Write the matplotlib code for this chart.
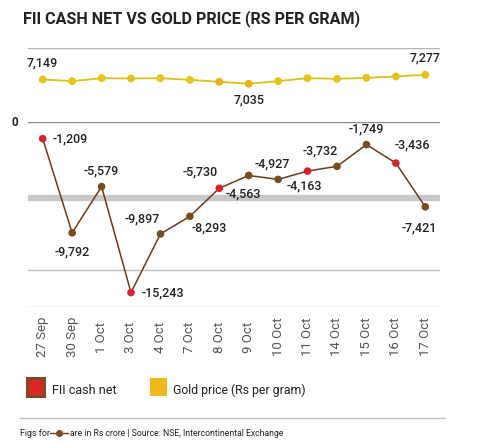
import matplotlib
matplotlib.use("Agg")
import matplotlib.pyplot as plt
from matplotlib.lines import Line2D

plt.rcParams['font.family'] = ['Roboto', 'DejaVu Sans']

dates = ["27 Sep", "30 Sep", "1 Oct", "3 Oct", "4 Oct", "7 Oct", "8 Oct",
         "9 Oct", "10 Oct", "11 Oct", "14 Oct", "15 Oct", "16 Oct", "17 Oct"]
fii_net = [-1209, -9792, -5579, -15243, -9897, -8293, -5730,
           -4563, -4927, -4163, -3732, -1749, -3436, -7421]
gold_price = [7149, 7104, 7185, 7176, 7185, 7140, 7086,
              7035, 7104, 7185, 7167, 7194, 7230, 7277]
fii_marker_red = [True, False, False, True, False, False, True,
                  False, False, True, False, False, True, False]
gold_labelled = {0: "7,149", 7: "7,035", 13: "7,277"}

W, H = 480, 445
fig = plt.figure(figsize=(W / 100, H / 100), dpi=100)

def frac_x(px):
    return px / W

def frac_y(py):
    return 1 - py / H

left, right = 28, 440
ax_g = fig.add_axes([frac_x(left), frac_y(122), frac_x(right - left), frac_y(48) - frac_y(122)])
ax_f = fig.add_axes([frac_x(left), frac_y(306.7), frac_x(right - left), frac_y(122) - frac_y(306.7)])

x = list(range(len(dates)))
for a in (ax_g, ax_f):
    a.set_xlim(-0.5, len(dates) - 0.5)
    for s in a.spines.values():
        s.set_visible(False)
    a.set_yticks([])
    a.set_xticks([])
    a.patch.set_alpha(0)

ax_g.set_ylim(6000, 8000)
ax_f.set_ylim(-16530, 310)

# grid lines
ax_g.plot([0, 1], [1, 1], transform=ax_g.transAxes, color="#b5b5b5", lw=1.0, zorder=0)
ax_f.plot([0, 1], [1, 1], transform=ax_f.transAxes, color="#8a8a8a", lw=1.0, zorder=0)
band = (306.7 - 198) / (306.7 - 122)
ax_f.plot([0, 1], [band, band], transform=ax_f.transAxes, color="#c8c8c8", lw=4.5, zorder=0, solid_capstyle='butt')
g2 = (306.7 - 270) / (306.7 - 122)
ax_f.plot([0, 1], [g2, g2], transform=ax_f.transAxes, color="#bdbdbd", lw=1.0, zorder=0)
ax_f.plot([0, 1], [0, 0], transform=ax_f.transAxes, color="#bdbdbd", lw=1.0, zorder=0)

fig.text(frac_x(15), frac_y(123), "0", ha="center", va="center", fontsize=8.5,
         fontweight="bold", color="#222222")

# gold line
ax_g.plot(x, gold_price, color="#d8c21c", lw=1.3, zorder=2)
gold_cols = ["#e3c417"] * len(x)
gold_cols[6] = "#e8b312"
gold_cols[7] = "#e8b312"
ax_g.scatter(x, gold_price, s=32, c=gold_cols, zorder=3, edgecolors="none")
for i, lab in gold_labelled.items():
    dy = 12 if i != 7 else -12
    ax_g.annotate(lab, (x[i], gold_price[i]), xytext=(0, dy), textcoords="offset points",
                  ha="center", va="center", fontsize=9, fontweight="medium", color="#222222")

# FII line
ax_f.plot(x, fii_net, color="#6e3a1c", lw=1.1, zorder=2)
cols = ["#d8232a" if r else "#7a4c1e" for r in fii_marker_red]
ax_f.scatter(x, fii_net, s=30, c=cols, zorder=3, edgecolors="none")

offsets = [(20, 0), (0, -14), (0, 11), (23, 0),
           (-13, 11), (14, -8), (-14, 12), (-4, -13),
           (-4, 11), (-2, -11), (-12, 11), (0, 11),
           (12, 13), (-4, -15)]
for i, v in enumerate(fii_net):
    dx, dy = offsets[i]
    ax_f.annotate(f"{v:,}", (x[i], v), xytext=(dx, dy), textcoords="offset points",
                  ha="center", va="center", fontsize=9, fontweight="medium", color="#222222")

# x labels
for i, d in enumerate(dates):
    xf = frac_x(left + (i + 0.5) * (right - left) / len(dates))
    fig.text(xf, frac_y(337), d, rotation=90, ha="center", va="center",
             fontsize=9.5, color="#555555", fontweight="normal")

# legend
fig.patches.append(plt.Rectangle((frac_x(27), frac_y(396)), frac_x(17), frac_y(378) - frac_y(396),
                                 transform=fig.transFigure, facecolor="#e02424",
                                 edgecolor="#7a4a25", lw=2.2))
fig.text(frac_x(52), frac_y(390), "FII cash net", ha="left", va="center", fontsize=9, color="#222222")
fig.patches.append(plt.Rectangle((frac_x(150), frac_y(396)), frac_x(17), frac_y(378) - frac_y(396),
                                 transform=fig.transFigure, facecolor="#f0b818",
                                 edgecolor="none"))
fig.text(frac_x(173), frac_y(390), "Gold price (Rs per gram)", ha="left", va="center",
         fontsize=8.8, color="#222222")

# separator + footer
fig.add_artist(Line2D([frac_x(20), frac_x(445)], [frac_y(418), frac_y(418)],
                      color="#bdbdbd", lw=1.0))
fig.text(frac_x(20), frac_y(433), "Figs for", ha="left", va="center", fontsize=6.4, color="#222222")
fig.add_artist(Line2D([frac_x(50), frac_x(68)], [frac_y(433), frac_y(433)],
                      color="#6e3a1c", lw=1.0))
fig.add_artist(Line2D([frac_x(59)], [frac_y(433)], marker="o", markersize=4,
                      color="#7a4c1e", markeredgecolor="#7a4c1e", lw=0))
fig.text(frac_x(70), frac_y(433), "are in Rs crore | Source: NSE, Intercontinental Exchange",
         ha="left", va="center", fontsize=6.2, color="#222222")

# title
fig.text(frac_x(23), frac_y(19), "FII CASH NET VS GOLD PRICE (RS PER GRAM)", ha="left",
         va="center", fontsize=11.6, fontweight="bold", color="#222222")

fig.savefig("out.png", dpi=100)
